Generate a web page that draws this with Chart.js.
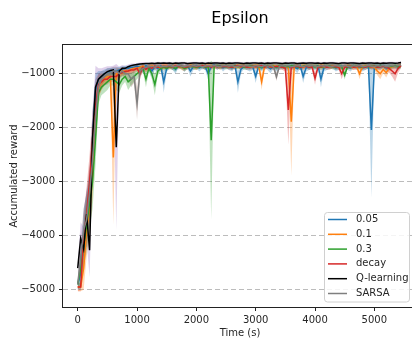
<!DOCTYPE html>
<html>
<head>
<meta charset="utf-8">
<script src="https://cdn.jsdelivr.net/npm/chart.js@4"></script>
<style>
  html, body { margin: 0; padding: 0; background: #fff; overflow: hidden; }
  #wrap { width: 412px; height: 338px; overflow: hidden; }
</style>
</head>
<body>
<div id="wrap"><canvas id="chart" width="420" height="338"></canvas></div>
<script>
// time axis (s)
const times = [
  0, 50, 100, 150, 200, 250, 300, 350, 400, 450,
  500, 550, 600, 650, 700, 750, 800, 850, 900, 950,
  1000, 1050, 1100, 1150, 1200, 1250, 1300, 1350, 1400, 1450,
  1500, 1550, 1600, 1650, 1700, 1750, 1800, 1850, 1900, 1950,
  2000, 2050, 2100, 2150, 2200, 2250, 2300, 2350, 2400, 2450,
  2500, 2550, 2600, 2650, 2700, 2750, 2800, 2850, 2900, 2950,
  3000, 3050, 3100, 3150, 3200, 3250, 3300, 3350, 3400, 3450,
  3500, 3550, 3600, 3650, 3700, 3750, 3800, 3850, 3900, 3950,
  4000, 4050, 4100, 4150, 4200, 4250, 4300, 4350, 4400, 4450,
  4500, 4550, 4600, 4650, 4700, 4750, 4800, 4850, 4900, 4950,
  5000, 5050, 5100, 5150, 5200, 5250, 5300, 5350, 5400, 5450
];

const xTicks = [0, 1000, 2000, 3000, 4000, 5000];
const yTicks = [-5000, -4000, -3000, -2000, -1000];

const eps005 = [
  -4900, -4700, -4000, -3700, -3300, -2200, -1300, -1100, -1050, -1000,
  -980, -960, -950, -950, -930, -920, -900, -900, -880, -880,
  -860, -870, -900, -850, -880, -950, -870, -900, -860, -1150,
  -900, -850, -870, -920, -840, -860, -900, -850, -950, -870,
  -850, -890, -860, -870, -1000, -860, -840, -870, -850, -890,
  -860, -870, -890, -850, -1150, -920, -860, -870, -890, -870,
  -1050, -860, -890, -850, -870, -910, -860, -890, -870, -850,
  -870, -890, -860, -870, -910, -850, -1050, -890, -870, -860,
  -870, -850, -1100, -890, -870, -860, -850, -890, -870, -860,
  -860, -870, -890, -850, -870, -860, -890, -870, -850, -2040,
  -890, -860, -870, -850, -890, -870, -860, -850, -870, -840
];
const eps005Spread = [
  100, 300, 500, 500, 500, 500, 300, 150, 100, 80,
  80, 70, 60, 60, 60, 60, 50, 50, 50, 50,
  50, 60, 80, 50, 70, 100, 60, 80, 50, 200,
  70, 50, 60, 80, 40, 50, 70, 50, 100, 60,
  50, 70, 50, 60, 120, 50, 40, 60, 50, 70,
  50, 60, 70, 50, 200, 80, 50, 60, 70, 60,
  120, 50, 70, 50, 60, 80, 50, 70, 60, 50,
  60, 70, 50, 60, 80, 50, 120, 70, 60, 50,
  60, 50, 150, 70, 60, 50, 50, 70, 60, 50,
  50, 60, 70, 50, 60, 50, 70, 60, 50, 1250,
  70, 50, 60, 50, 70, 60, 50, 50, 60, 40
];

const eps01 = [
  -4950, -4950, -4600, -3900, -3500, -2800, -1800, -1250, -1150, -1100,
  -1050, -1050, -2550, -1000, -980, -950, -950, -950, -920, -900,
  -900, -880, -860, -900, -870, -850, -880, -860, -900, -870,
  -850, -880, -860, -870, -850, -880, -900, -860, -850, -870,
  -880, -860, -850, -870, -860, -850, -870, -860, -880, -850,
  -860, -870, -850, -880, -860, -870, -850, -860, -880, -870,
  -860, -850, -1150, -870, -860, -880, -850, -870, -860, -850,
  -870, -880, -1890, -860, -850, -870, -880, -860, -870, -850,
  -860, -870, -850, -880, -860, -870, -850, -860, -880, -870,
  -860, -850, -870, -880, -860, -1000, -870, -850, -860, -870,
  -880, -950, -1000, -920, -980, -900, -870, -860, -850, -840
];
const eps01Spread = [
  80, 80, 400, 500, 500, 500, 500, 200, 150, 100,
  100, 100, 1250, 100, 80, 70, 60, 60, 50, 50,
  50, 50, 40, 60, 50, 40, 50, 40, 60, 50,
  40, 50, 40, 50, 40, 50, 60, 40, 40, 50,
  50, 40, 40, 50, 40, 40, 50, 40, 50, 40,
  40, 50, 40, 50, 40, 50, 40, 40, 50, 50,
  40, 40, 150, 50, 40, 50, 40, 50, 40, 40,
  50, 50, 1000, 40, 40, 50, 50, 40, 50, 40,
  40, 50, 40, 50, 40, 50, 40, 40, 50, 50,
  40, 40, 50, 50, 40, 100, 50, 40, 40, 50,
  50, 80, 100, 70, 90, 60, 50, 40, 40, 40
];

const eps03 = [
  -4900, -4600, -4200, -3800, -3400, -3000, -2200, -1350, -1250, -1200,
  -1150, -1100, -1100, -1150, -1200, -1100, -1050, -1150, -1100, -1050,
  -1000, -950, -900, -1100, -900, -1000, -1200, -950, -900, -880,
  -900, -870, -880, -900, -860, -870, -900, -880, -860, -870,
  -880, -870, -860, -880, -870, -2230, -860, -850, -870, -860,
  -870, -860, -880, -850, -870, -860, -880, -870, -850, -860,
  -860, -870, -880, -860, -850, -870, -860, -880, -850, -870,
  -860, -870, -850, -860, -870, -880, -860, -850, -870, -860,
  -870, -860, -880, -870, -850, -860, -870, -880, -860, -870,
  -1025, -860, -870, -850, -860, -870, -880, -860, -870, -860,
  -860, -870, -850, -860, -880, -870, -860, -850, -870, -860
];
const eps03Spread = [
  100, 300, 400, 500, 500, 500, 500, 200, 150, 150,
  150, 120, 120, 150, 150, 120, 100, 150, 120, 100,
  100, 80, 60, 150, 60, 100, 200, 80, 60, 50,
  50, 40, 50, 60, 40, 50, 50, 40, 40, 50,
  50, 40, 40, 50, 40, 1470, 40, 40, 50, 40,
  50, 40, 50, 40, 50, 40, 50, 50, 40, 40,
  40, 50, 50, 40, 40, 50, 40, 50, 40, 50,
  40, 50, 40, 40, 50, 50, 40, 40, 50, 40,
  50, 40, 50, 50, 40, 40, 50, 50, 40, 50,
  80, 40, 50, 40, 40, 50, 50, 40, 50, 40,
  40, 50, 40, 40, 50, 50, 40, 40, 50, 40
];

const decay = [
  -4950, -4950, -4000, -3600, -3000, -2200, -1600, -1200, -1150, -1100,
  -1100, -1050, -1050, -1050, -1000, -980, -960, -950, -930, -930,
  -900, -1000, -880, -920, -870, -900, -860, -880, -870, -860,
  -870, -860, -880, -850, -870, -860, -880, -870, -860, -850,
  -870, -860, -850, -870, -860, -880, -850, -870, -860, -870,
  -860, -870, -880, -860, -850, -870, -860, -880, -870, -860,
  -870, -860, -850, -880, -860, -870, -880, -860, -870, -880,
  -900, -1670, -880, -870, -860, -880, -870, -860, -880, -870,
  -1085, -880, -870, -860, -880, -870, -860, -870, -880, -1000,
  -880, -870, -860, -880, -870, -860, -870, -880, -860, -870,
  -860, -880, -870, -860, -880, -900, -950, -1000, -900, -850
];
const decaySpread = [
  80, 80, 400, 500, 500, 500, 500, 200, 150, 120,
  100, 100, 100, 100, 80, 70, 60, 60, 60, 60,
  60, 100, 50, 60, 50, 60, 50, 50, 50, 50,
  50, 40, 50, 40, 50, 40, 50, 50, 40, 40,
  50, 40, 40, 50, 40, 50, 40, 50, 40, 50,
  40, 50, 50, 40, 40, 50, 40, 50, 50, 40,
  50, 40, 40, 50, 40, 50, 50, 40, 50, 50,
  60, 650, 50, 50, 40, 50, 50, 40, 50, 50,
  120, 50, 50, 40, 50, 50, 40, 50, 50, 100,
  50, 50, 40, 50, 50, 40, 50, 50, 40, 50,
  40, 50, 50, 40, 50, 80, 100, 150, 80, 50
];

const qLearning = [
  -4600, -4050, -4250, -3600, -4270, -2200, -1250, -1100, -1050, -1000,
  -960, -940, -930, -2360, -950, -900, -900, -870, -850, -840,
  -830, -820, -815, -810, -810, -805, -810, -800, -805, -800,
  -805, -800, -810, -800, -805, -800, -800, -810, -805, -800,
  -800, -805, -800, -810, -800, -805, -800, -800, -805, -800,
  -810, -800, -805, -800, -800, -805, -810, -800, -805, -800,
  -800, -805, -800, -810, -800, -805, -800, -800, -805, -810,
  -800, -805, -800, -800, -810, -805, -800, -805, -800, -800,
  -805, -800, -810, -800, -805, -800, -800, -805, -810, -800,
  -800, -805, -800, -800, -805, -810, -800, -805, -800, -800,
  -805, -800, -810, -800, -805, -800, -800, -805, -800, -790
];
const qLearningSpread = [
  100, 300, 400, 500, 500, 500, 400, 200, 150, 120,
  100, 80, 80, 1540, 80, 60, 50, 40, 40, 30,
  30, 30, 30, 20, 20, 20, 20, 20, 20, 20,
  20, 20, 20, 20, 20, 20, 20, 20, 20, 20,
  20, 20, 20, 20, 20, 20, 20, 20, 20, 20,
  20, 20, 20, 20, 20, 20, 20, 20, 20, 20,
  20, 20, 20, 20, 20, 20, 20, 20, 20, 20,
  20, 20, 20, 20, 20, 20, 20, 20, 20, 20,
  20, 20, 20, 20, 20, 20, 20, 20, 20, 20,
  20, 20, 20, 20, 20, 20, 20, 20, 20, 20,
  20, 20, 20, 20, 20, 20, 20, 20, 20, 20
];

const sarsa = [
  -4900, -4400, -3900, -3700, -3200, -2600, -1800, -1250, -1100, -1050,
  -1000, -980, -950, -950, -1000, -950, -1000, -1000, -1100, -1050,
  -1550, -950, -900, -880, -870, -860, -880, -850, -870, -860,
  -860, -850, -870, -860, -850, -860, -870, -850, -860, -850,
  -860, -850, -870, -860, -850, -860, -850, -860, -870, -850,
  -850, -860, -850, -870, -860, -850, -860, -850, -860, -870,
  -850, -860, -870, -850, -860, -850, -870, -1055, -860, -850,
  -860, -850, -870, -860, -850, -860, -870, -850, -860, -850,
  -860, -870, -850, -860, -850, -870, -860, -850, -860, -870,
  -850, -860, -870, -850, -860, -850, -870, -860, -850, -860,
  -870, -850, -860, -850, -870, -860, -850, -860, -850, -840
];
const sarsaSpread = [
  100, 300, 400, 500, 500, 500, 500, 250, 150, 100,
  100, 80, 80, 80, 100, 80, 100, 100, 150, 120,
  300, 100, 80, 50, 50, 40, 50, 40, 50, 40,
  40, 50, 40, 50, 40, 50, 40, 40, 50, 40,
  50, 40, 50, 40, 40, 50, 40, 50, 40, 50,
  40, 50, 40, 50, 40, 50, 40, 40, 50, 40,
  50, 40, 50, 40, 50, 40, 50, 80, 40, 50,
  40, 50, 40, 50, 40, 50, 40, 40, 50, 40,
  50, 40, 50, 40, 50, 40, 50, 40, 40, 50,
  40, 50, 40, 50, 40, 50, 40, 40, 50, 40,
  50, 40, 50, 40, 50, 40, 40, 50, 40, 40
];

const names = ["0.05", "0.1", "0.3", "decay", "Q-learning", "SARSA"];
const lineColors = ["#1f77b4", "#ff7f0e", "#2ca02c", "#d62728", "#000000", "#7f7f7f"];
const bandColors = [
  "rgba(31,119,180,0.3)", "rgba(255,127,14,0.3)", "rgba(44,160,44,0.3)",
  "rgba(214,39,40,0.3)", "rgba(148,103,189,0.3)", "rgba(140,86,75,0.3)"
];

const means = [eps005, eps01, eps03, decay, qLearning, sarsa];
const spreads = [eps005Spread, eps01Spread, eps03Spread, decaySpread, qLearningSpread, sarsaSpread];

const FONT = "'DejaVu Sans', sans-serif";
const TEXT = "#262626";

const datasets = [];
// mean lines, last one on top
means.forEach((vals, k) => {
    datasets.push({
        label: names[k],
        data: times.map((t, i) => ({ x: t, y: vals[i] })),
        borderColor: lineColors[k],
        borderWidth: 1.5,
        pointRadius: 0,
        tension: 0,
        fill: false,
        order: 5 - k
    });
});
// shaded bands (upper fills down to lower)
means.forEach((vals, k) => {
    datasets.push({
        label: "",
        data: times.map((t, i) => ({ x: t, y: vals[i] + spreads[k][i] })),
        borderWidth: 0,
        pointRadius: 0,
        backgroundColor: bandColors[k],
        fill: "+1",
        order: 20
    });
    datasets.push({
        label: "",
        data: times.map((t, i) => ({ x: t, y: vals[i] - spreads[k][i] })),
        borderWidth: 0,
        pointRadius: 0,
        fill: false,
        order: 20
    });
});

const decorations = {
    id: "decorations",
    afterDraw(chart) {
        const { ctx, chartArea: a } = chart;
        ctx.save();

        // axes frame
        ctx.strokeStyle = "#222";
        ctx.lineWidth = 1;
        ctx.strokeRect(a.left - 0.5, a.top - 0.5, a.right - a.left + 1, a.bottom - a.top + 1);

        // title and axis labels
        ctx.fillStyle = "#000";
        ctx.font = `16px ${FONT}`;
        ctx.textAlign = "center";
        ctx.textBaseline = "alphabetic";
        ctx.fillText("Epsilon", 240, 23);

        ctx.fillStyle = TEXT;
        ctx.font = `10px ${FONT}`;
        ctx.textBaseline = "middle";
        ctx.fillText("Time (s)", 240, 333);

        ctx.save();
        ctx.translate(14, 176);
        ctx.rotate(-Math.PI / 2);
        ctx.fillText("Accumulated reward", 0, 0);
        ctx.restore();

        // legend box
        const bx = 324.5, by = 212.5, bw = 85, bh = 89.5;
        ctx.beginPath();
        ctx.roundRect(bx, by, bw, bh, 3);
        ctx.fillStyle = "rgba(255,255,255,0.85)";
        ctx.fill();
        ctx.strokeStyle = "#d0d0d0";
        ctx.lineWidth = 1;
        ctx.stroke();

        ctx.textAlign = "left";
        names.forEach((name, k) => {
            const y = 219.5 + k * 14.8;
            ctx.beginPath();
            ctx.moveTo(328, y);
            ctx.lineTo(347, y);
            ctx.strokeStyle = lineColors[k];
            ctx.lineWidth = 1.5;
            ctx.stroke();
            ctx.fillStyle = TEXT;
            ctx.fillText(name, 356, y);
        });

        ctx.restore();
    }
};

new Chart(document.getElementById("chart"), {
    type: "line",
    data: { datasets },
    options: {
        responsive: false,
        devicePixelRatio: 1,
        animation: false,
        layout: { padding: { top: 45, right: 3, bottom: 0, left: 0 } },
        plugins: {
            legend: { display: false },
            tooltip: { enabled: false },
            title: { display: false }
        },
        scales: {
            x: {
                type: "linear",
                min: -248,
                max: 5719,
                afterFit: (scale) => { scale.height = 31; },
                afterBuildTicks: (scale) => { scale.ticks = xTicks.map(v => ({ value: v })); },
                ticks: {
                    maxRotation: 0,
                    autoSkip: false,
                    padding: 3,
                    color: TEXT,
                    font: { family: FONT, size: 10 },
                    callback: (v) => String(v)
                },
                grid: {
                    drawOnChartArea: false,
                    drawTicks: true,
                    tickLength: 4,
                    tickColor: "#222",
                    tickWidth: 1
                },
                border: { display: false }
            },
            y: {
                type: "linear",
                min: -5320,
                max: -468,
                afterFit: (scale) => { scale.width = 63; },
                afterBuildTicks: (scale) => { scale.ticks = yTicks.map(v => ({ value: v })); },
                ticks: {
                    autoSkip: false,
                    padding: 4,
                    color: TEXT,
                    font: { family: FONT, size: 10 },
                    callback: (v) => String(v).replace("-", "\u2212")
                },
                grid: {
                    color: "rgba(176,176,176,0.85)",
                    lineWidth: 1,
                    drawTicks: true,
                    tickLength: 4,
                    tickColor: "#222",
                    tickWidth: 1,
                    tickBorderDash: []
                },
                border: { display: false, dash: [5, 3] }
            }
        }
    },
    plugins: [decorations]
});
</script>
</body>
</html>
